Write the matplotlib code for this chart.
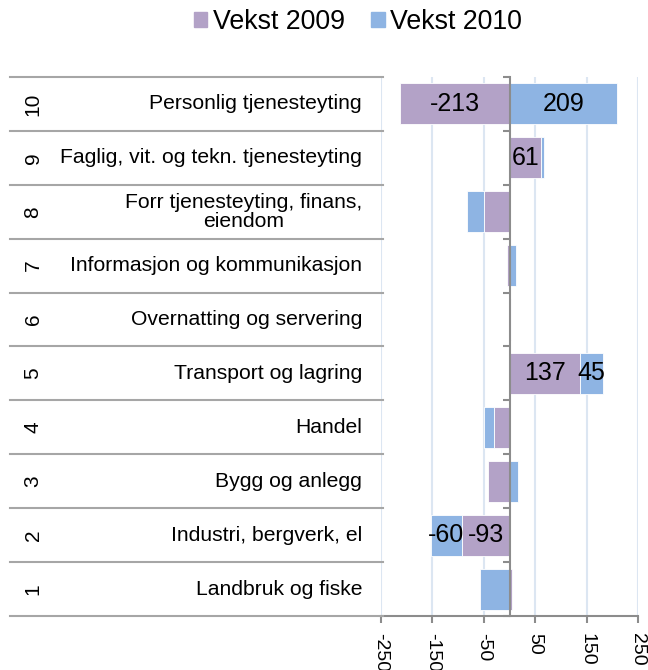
import matplotlib.pyplot as plt
import matplotlib.transforms as mtransforms
from matplotlib.lines import Line2D
from matplotlib.patches import Patch

plt.rcParams['font.family'] = ['Liberation Sans', 'DejaVu Sans']

numbers = ['1', '2', '3', '4', '5', '6', '7', '8', '9', '10']
sectors = ['Landbruk og fiske', 'Industri, bergverk, el', 'Bygg og anlegg', 'Handel',
           'Transport og lagring', 'Overnatting og servering', 'Informasjon og kommunikasjon',
           'Forr tjenesteyting, finans,\neiendom', 'Faglig, vit. og tekn. tjenesteyting',
           'Personlig tjenesteyting']
vekst_2009 = [4, -93, -42, -31, 137, 2, -5, -50, 61, -213]
vekst_2010 = [-58, -60, 16, -18, 45, 0, 13, -33, 7, 209]
# which segments carry a data label in the original
label_2009 = [False, True, False, False, True, False, False, False, True, True]
label_2010 = [False, True, False, False, True, False, False, False, False, True]
xticks = [-250, -150, -50, 50, 150, 250]

c09 = '#B3A2C7'
c10 = '#8EB4E3'
grey = '#8C8C8C'

fig = plt.figure(figsize=(6.48, 6.70), dpi=100)
ax = fig.add_axes([381 / 648, 54 / 670, 257 / 648, 539 / 670])

ys = list(range(len(sectors)))
h = 0.76
ax.barh(ys, vekst_2009, height=h, color=c09, edgecolor='white', linewidth=0.6, zorder=3)
left10 = [a if (a >= 0) == (b >= 0) else 0 for a, b in zip(vekst_2009, vekst_2010)]
ax.barh(ys, vekst_2010, left=left10, height=h, color=c10, edgecolor='white', linewidth=0.6, zorder=3)

for y, a, b, l, la, lb in zip(ys, vekst_2009, vekst_2010, left10, label_2009, label_2010):
    if la:
        ax.text(a / 2, y, f'{a}', ha='center', va='center', fontsize=18, zorder=5)
    if lb:
        ax.text(l + b / 2, y, f'{b}', ha='center', va='center', fontsize=18, zorder=5)

ax.set_xlim(-250, 250)
ax.set_ylim(-0.5, len(sectors) - 0.5)
ax.set_xticks(xticks)
ax.set_xticklabels([str(t) for t in xticks], rotation=270, fontsize=14, va='top')
ax.tick_params(axis='x', length=5, color=grey, width=1.5, pad=7)
ax.grid(axis='x', color='#DCE6F2', linewidth=1.5, zorder=0)
ax.set_axisbelow(True)

ax.set_yticks([i - 0.5 for i in range(len(sectors) + 1)])
ax.set_yticklabels([])
ax.tick_params(axis='y', length=5, color=grey, width=1.5)

for s in ['top', 'right']:
    ax.spines[s].set_visible(False)
ax.spines['left'].set_position(('data', 0))
ax.spines['left'].set_color(grey)
ax.spines['left'].set_linewidth(1.5)
ax.spines['left'].set_zorder(4)
ax.spines['bottom'].set_color(grey)
ax.spines['bottom'].set_linewidth(1.5)

# category labels on the left
trans = mtransforms.blended_transform_factory(fig.transFigure, ax.transData)
for y, num, name in zip(ys, numbers, sectors):
    fig.text(33 / 648, y, num, transform=trans, rotation=90, ha='center', va='center', fontsize=15)
    fig.text(362 / 648, y, name, transform=trans, ha='right', va='center', fontsize=15.2,
             multialignment='center', linespacing=1.0)
for i in range(len(sectors) + 1):
    fig.add_artist(Line2D([10 / 648, 383 / 648], [i - 0.5, i - 0.5], transform=trans,
                          color='#A6A6A6', linewidth=1.5))

handles = [Patch(color=c09, label='Vekst 2009'), Patch(color=c10, label='Vekst 2010')]
fig.legend(handles=handles, loc='center', bbox_to_anchor=(358 / 648, 1 - 22 / 670), ncol=2,
           frameon=False, fontsize=19.3, handlelength=0.5, handleheight=0.5, handletextpad=0.2,
           columnspacing=1.0)

fig.savefig('out.png', dpi=100)
